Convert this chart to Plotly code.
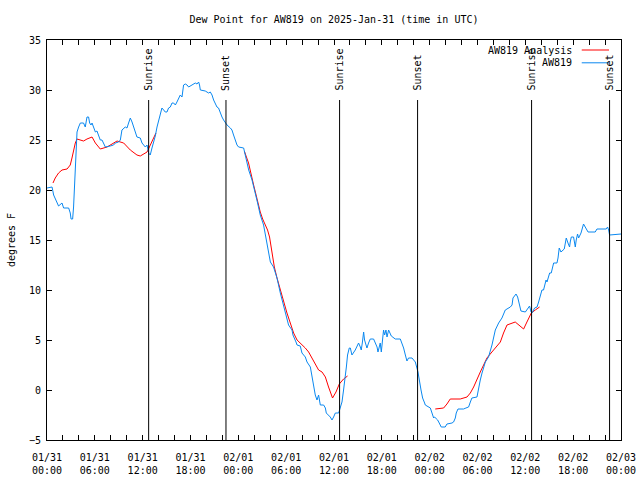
import plotly.graph_objects as go
import pandas as pd

TITLE = "Dew Point for AW819 on 2025-Jan-31 (time in UTC)"
START = "2025-01-31 00:00"
END = "2025-02-03 00:00"
Y_LABEL = "degrees F"
Y_TICKS = [-5, 0, 5, 10, 15, 20, 25, 30, 35]
X_TICK_TIMES = ["2025-01-31 00:00", "2025-01-31 06:00", "2025-01-31 12:00", "2025-01-31 18:00",
                "2025-02-01 00:00", "2025-02-01 06:00", "2025-02-01 12:00", "2025-02-01 18:00",
                "2025-02-02 00:00", "2025-02-02 06:00", "2025-02-02 12:00", "2025-02-02 18:00",
                "2025-02-03 00:00"]
X_TICK_LABELS = ["01/31<br>00:00", "01/31<br>06:00", "01/31<br>12:00", "01/31<br>18:00",
                 "02/01<br>00:00", "02/01<br>06:00", "02/01<br>12:00", "02/01<br>18:00",
                 "02/02<br>00:00", "02/02<br>06:00", "02/02<br>12:00", "02/02<br>18:00",
                 "02/03<br>00:00"]
SUN_LABELS = ["Sunrise", "Sunset", "Sunrise", "Sunset", "Sunrise", "Sunset"]
SUN_TIMES = ["2025-01-31 12:45", "2025-01-31 22:27", "2025-02-01 12:42",
             "2025-02-01 22:29", "2025-02-02 12:47", "2025-02-02 22:34"]

# AW819 observations: minutes after START, dew point (F)
OBS_MIN = [0, 38, 50, 75, 87, 113, 125, 163, 175, 181, 193, 200, 213, 226, 238, 251, 275, 288, 301, 313,
           321, 331, 339, 351, 364, 376, 388, 401, 414, 426, 439, 476, 501, 514, 539, 552, 564, 589, 602, 614,
           627, 640, 652, 665, 677, 702, 715, 740, 753, 765, 777, 790, 802, 815, 828, 840, 853, 865, 878, 890,
           903, 915, 928, 941, 953, 966, 978, 990, 1003, 1016, 1024, 1028, 1041, 1054, 1066, 1091, 1116, 1129,
           1141, 1148, 1154, 1191, 1216, 1229, 1242, 1254, 1267, 1279, 1291, 1304, 1317, 1329, 1355, 1380,
           1392, 1404, 1417, 1430, 1442, 1480, 1492, 1505, 1518, 1543, 1562, 1585, 1605, 1630, 1648, 1668,
           1681, 1705, 1718, 1731, 1756, 1781, 1793, 1818, 1844, 1851, 1874, 1882, 1906, 1919, 1944, 1957,
           1982, 1994, 2006, 2019, 2032, 2044, 2057, 2082, 2095, 2102, 2132, 2145, 2157, 2170, 2195, 2207,
           2220, 2232, 2245, 2253, 2262, 2275, 2283, 2295, 2320, 2345, 2358, 2365, 2373, 2383, 2390, 2408,
           2420, 2433, 2458, 2484, 2491, 2501, 2508, 2516, 2526, 2533, 2541, 2551, 2559, 2571, 2591, 2621,
           2659, 2684, 2697, 2709, 2721, 2747, 2772, 2792, 2815, 2827, 2842, 2847, 2885, 2897, 2910, 2917,
           2940, 2952, 2967, 2997, 3010, 3048, 3060, 3073, 3080, 3093, 3135, 3153, 3173, 3186, 3198, 3236,
           3248, 3261, 3274, 3299, 3323, 3336, 3349, 3374, 3399, 3424, 3449, 3487, 3500, 3507, 3530, 3542,
           3555, 3567, 3600, 3625, 3632, 3643, 3650, 3670, 3688, 3700, 3718, 3725, 3737, 3756, 3763, 3783,
           3795, 3805, 3813, 3838, 3846, 3855, 3868, 3893, 3901, 3908, 3921, 3933, 3938, 3946, 3963, 3976,
           3983, 3993, 4001, 4019, 4038, 4051, 4072, 4126, 4139, 4209, 4219, 4227, 4234, 4320]
OBS_VAL = [20.2, 20.3, 19.5, 18.7, 18.4, 18.7, 18.2, 18.2, 17.7, 17.1, 17.1, 18.3, 22.0, 25.8, 26.3, 26.7, 26.7, 26.3, 27.3, 27.3,
           26.7, 26.5, 26.7, 26.3, 25.8, 25.9, 25.5, 25.0, 25.0, 24.7, 24.3, 24.4, 24.5, 24.7, 24.8, 25.0, 26.0, 26.3, 26.2, 26.7,
           27.2, 26.8, 26.3, 25.8, 25.3, 25.2, 24.7, 24.3, 24.5, 23.7, 23.5, 24.2, 24.7, 25.4, 26.3, 27.0, 27.7, 28.2, 28.0, 27.8,
           27.8, 28.2, 28.3, 28.7, 28.7, 28.5, 28.8, 29.2, 29.5, 29.3, 30.0, 30.5, 30.6, 30.5, 30.3, 30.5, 30.7, 30.6,
           30.8, 30.5, 30.0, 29.9, 29.7, 29.8, 29.5, 29.0, 28.7, 28.3, 28.2, 27.7, 27.3, 27.0, 26.5, 26.2,
           26.0, 25.5, 25.0, 24.5, 24.3, 24.2, 23.5, 22.8, 22.0, 21.0, 19.8, 18.7, 17.5, 16.5, 15.2, 13.7,
           12.8, 12.3, 11.7, 11.2, 9.7, 8.3, 7.7, 6.5, 6.0, 5.5, 4.8, 4.5, 4.4, 3.7, 3.3, 2.8,
           2.3, 1.3, 0.3, -0.5, -1.0, -0.5, -1.5, -1.5, -1.8, -2.3, -2.7, -3.0, -2.7, -2.3, -2.3, -1.7,
           -1.2, 0.0, 1.2, 2.3, 3.5, 4.2, 4.2, 3.5, 4.0, 4.7, 4.3, 4.0, 4.7, 5.8, 5.0, 4.2,
           4.7, 5.1, 5.1, 4.3, 3.8, 4.3, 4.7, 3.8, 4.8, 6.0, 5.5, 6.0, 5.3, 6.0, 5.4, 5.1,
           5.1, 4.2, 3.5, 2.9, 3.2, 3.2, 2.8, 1.8, 0.0, -0.8, -1.3, -1.5, -1.8, -2.3, -2.8, -2.7,
           -3.0, -3.3, -3.7, -3.7, -3.4, -3.3, -3.2, -2.8, -2.3, -1.9, -1.9, -1.8, -1.7, -1.2, -0.8, -0.7,
           0.2, 1.0, 1.7, 2.8, 3.3, 3.8, 4.5, 6.0, 6.7, 7.2, 8.0, 8.3, 8.5, 9.2, 9.6, 9.3,
           8.5, 7.9, 7.8, 8.2, 8.4, 7.8, 7.7, 8.2, 8.3, 8.8, 9.7, 10.0, 10.0, 11.0, 10.8, 11.7,
           11.7, 12.3, 12.7, 12.7, 13.2, 14.2, 13.8, 14.1, 14.8, 15.2, 14.7, 14.3, 14.8, 15.3, 15.3, 14.3,
           15.0, 15.6, 15.2, 15.7, 16.6, 16.3, 15.8, 15.8, 16.1, 16.1, 16.3, 16.0, 15.5, 15.6]

# AW819 Analysis: minutes after START (None = gap), dew point (F)
ANA_MIN = [45, 62, 87, 113, 151, 175, 188, 200, 213, 226, 275, 301, 339, 364, 388, 401, 452, 501, 527, 577,
           627, 677, 702, 753, 777, 802, 820, None,
           1485, 1517, 1555, 1580, 1605, 1623, 1643, 1660, 1675, 1686, 1698, 1711, 1731, 1781, 1806, 1831,
           1856, 1882, 1906, 1944, 1969, 1994, 2019, 2044, 2070, 2095, 2119, 2149, 2175, 2200, 2232, 2262, None,
           2922, 2985, 3010, 3035, 3110, 3161, 3186, 3211, 3261, 3311, 3361, 3412, 3436, 3462, 3524, 3587,
           3612, 3645, 3675, 3707]
ANA_VAL = [20.7, 21.2, 21.7, 22.0, 22.1, 22.5, 23.2, 24.0, 24.7, 25.1, 24.9, 25.1, 25.3, 24.7, 24.3, 24.1, 24.3, 24.7, 24.9, 24.7,
           24.0, 23.5, 23.4, 23.8, 24.5, 25.1, 25.7, None,
           23.9, 22.7, 20.5, 19.0, 17.8, 17.1, 16.5, 16.0, 15.3, 14.3, 13.3, 12.3, 11.2, 8.7, 7.7, 6.7,
           5.7, 5.0, 4.7, 4.2, 3.8, 3.2, 2.5, 2.0, 1.8, 1.3, 0.3, -0.8, -0.2, 0.6, 1.1, 1.4, None,
           -1.9, -1.8, -1.4, -0.9, -0.9, -0.7, -0.3, 0.3, 1.8, 3.2, 4.0, 4.8, 5.7, 6.5, 6.8, 6.1,
           6.8, 7.7, 8.0, 8.3]

RED = "#ff0000"
BLUE = "#0a88f0"
FONT = "DejaVu Sans Mono"

t0 = pd.Timestamp(START)


def to_times(mins):
    return [None if m is None else t0 + pd.Timedelta(minutes=m) for m in mins]


fig = go.Figure()
fig.add_trace(go.Scatter(x=to_times(ANA_MIN), y=ANA_VAL, mode="lines", name="AW819 Analysis",
                         line=dict(color=RED, width=1), connectgaps=False, showlegend=False))
fig.add_trace(go.Scatter(x=to_times(OBS_MIN), y=OBS_VAL, mode="lines", name="AW819",
                         line=dict(color=BLUE, width=1), showlegend=False))

for lab, t in zip(SUN_LABELS, SUN_TIMES):
    fig.add_shape(type="line", xref="x", yref="paper", x0=t, x1=t, y0=0, y1=0.85,
                  line=dict(color="black", width=1))
    fig.add_annotation(x=t, xref="x", y=0.8675, yref="paper", text=lab, textangle=-90,
                       showarrow=False, xanchor="center", yanchor="bottom",
                       font=dict(family=FONT, size=10, color="black"))

# key (gnuplot style: text on the left, line sample on the right)
for i, (name, col) in enumerate([("AW819 Analysis", RED), ("AW819", BLUE)]):
    yk = 0.975 - i * 0.032
    fig.add_annotation(x=0.918, xref="paper", y=yk, yref="paper", text=name, showarrow=False,
                       xanchor="right", yanchor="middle", font=dict(family=FONT, size=10, color="black"))
    fig.add_shape(type="line", xref="paper", yref="paper", x0=0.9316, x1=0.9791, y0=yk, y1=yk,
                  line=dict(color=col, width=1))

fig.update_layout(
    width=640, height=480,
    margin=dict(l=47, r=19, t=40, b=40, autoexpand=False),
    paper_bgcolor="white", plot_bgcolor="white",
    font=dict(family=FONT, size=10, color="black"),
    title=dict(text=TITLE, x=0.5, xref="paper", xanchor="center", y=1 - 19 / 480, yanchor="middle",
               font=dict(family=FONT, size=10, color="black")),
)
fig.update_xaxes(type="date", range=[START, END], tickvals=X_TICK_TIMES, ticktext=X_TICK_LABELS,
                 ticks="inside", ticklen=5, tickcolor="black", showgrid=False, zeroline=False,
                 showline=True, linecolor="black", linewidth=1, mirror="ticks", automargin=False,
                 ticklabelstandoff=8,
                 minor=dict(dtick=2 * 3600 * 1000, ticks="inside", ticklen=5, tickcolor="black", showgrid=False),
                 tickfont=dict(family=FONT, size=10, color="black"))
fig.update_yaxes(range=[-5, 35], tickvals=Y_TICKS, ticks="inside", ticklen=5, tickcolor="black",
                 showgrid=False, zeroline=False, showline=True, linecolor="black", linewidth=1,
                 mirror="ticks", automargin=False, ticklabelstandoff=3,
                 tickfont=dict(family=FONT, size=10, color="black"),
                 title=dict(text=Y_LABEL, standoff=11, font=dict(family=FONT, size=10, color="black")))

fig.write_html("out.html", config={"displayModeBar": False},
               post_script="document.body.style.margin='0px';")
